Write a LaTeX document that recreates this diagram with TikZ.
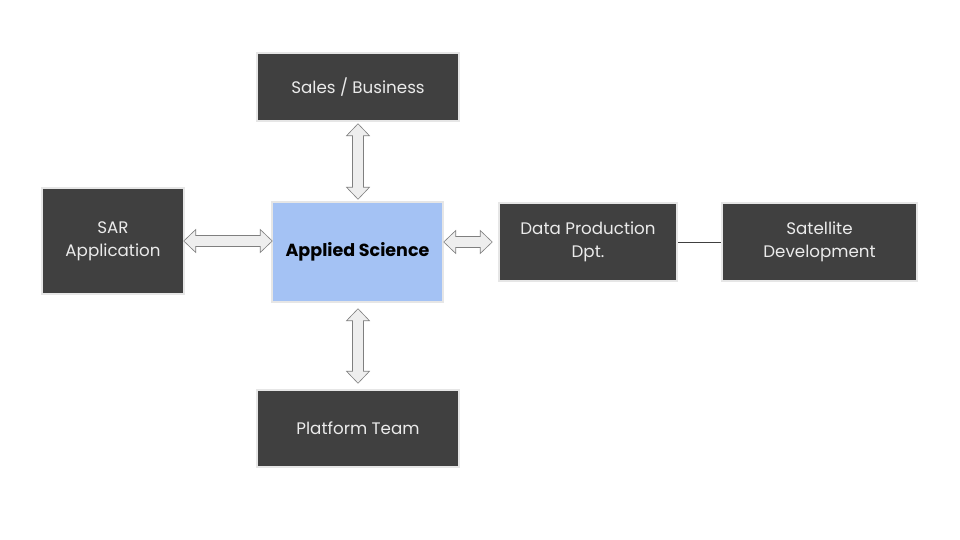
\documentclass[tikz,border=0pt]{standalone}
\usepackage{fontspec}
\setmainfont{Poppins}
\usetikzlibrary{calc}
\definecolor{boxdark}{HTML}{404040}
\definecolor{boxblue}{HTML}{A4C2F4}
\definecolor{rim}{HTML}{E6E6E6}
\definecolor{arrfill}{HTML}{EEEEEE}
\definecolor{arrline}{HTML}{7F7F7F}
\tikzset{
  darkbox/.style={draw=rim, line width=1.5pt, fill=boxdark, text=white!92!black, inner sep=0pt, align=center,
    font=\fontsize{16.7}{23}\selectfont},
  bluebox/.style={draw=rim, line width=1.5pt, fill=boxblue, text=black, inner sep=0pt, align=center,
    font=\fontsize{17.5}{23}\selectfont\bfseries},
  blockarrow/.style={draw=arrline, line width=0.6pt, fill=arrfill, line join=miter},
  plainline/.style={draw=boxdark, line width=0.8pt}
}
\newcommand\harrow[2]{\draw[blockarrow] let \p1=#1, \p2=#2 in
  (\x1,\y1) -- (\x1+12pt,\y1+11.5pt) -- (\x1+12pt,\y1+5.5pt) -- (\x2-12pt,\y1+5.5pt) -- (\x2-12pt,\y1+11.5pt)
  -- (\x2,\y1) -- (\x2-12pt,\y1-11.5pt) -- (\x2-12pt,\y1-5.5pt) -- (\x1+12pt,\y1-5.5pt) -- (\x1+12pt,\y1-11.5pt) -- cycle;}
\newcommand\varrow[2]{\draw[blockarrow] let \p1=#1, \p2=#2 in
  (\x1,\y1) -- (\x1+11.5pt,\y1-12pt) -- (\x1+5.5pt,\y1-12pt) -- (\x1+5.5pt,\y2+12pt) -- (\x1+11.5pt,\y2+12pt)
  -- (\x1,\y2) -- (\x1-11.5pt,\y2+12pt) -- (\x1-5.5pt,\y2+12pt) -- (\x1-5.5pt,\y1-12pt) -- (\x1-11.5pt,\y1-12pt) -- cycle;}
\begin{document}
\begin{tikzpicture}[x=1pt,y=-1pt]
\useasboundingbox[fill=white] (0,0) rectangle (960,540);
\node[darkbox, minimum width=202pt, minimum height=68pt] (sales) at (358,87) {Sales / Business};
\node[darkbox, minimum width=142pt, minimum height=106pt] (sar) at (113,241) {SAR\\Application};
\node[bluebox, minimum width=171pt, minimum height=100pt] (applied) at (357.5,252) {Applied Science};
\node[darkbox, minimum width=178pt, minimum height=78pt] (data) at (588,242) {Data Production\\Dpt.};
\node[darkbox, minimum width=195pt, minimum height=78pt] (sat) at (819.5,242) {Satellite\\Development};
\node[darkbox, minimum width=202pt, minimum height=77pt] (plat) at (358,428.5) {Platform Team};
% connectors
\coordinate (t1) at ([yshift=-2pt]sales.south);
\coordinate (t2) at ($(sales.south |- applied.north)+(0,-2)$);
\varrow{(t1)}{(t2)}
\coordinate (b1) at ($(plat.north |- applied.south)+(0,6)$);
\coordinate (b2) at ([yshift=6pt]plat.north);
\varrow{(b1)}{(b2)}
\coordinate (l1) at ([xshift=-1pt]sar.east);
\coordinate (l2) at ($(applied.west |- sar.east)+(1,0)$);
\harrow{(l1)}{(l2)}
\coordinate (r1) at ($(applied.east |- data.west)$);
\coordinate (r2) at ([xshift=-6pt]data.west);
\harrow{(r1)}{(r2)}
\draw[plainline] (data.east) -- (sat.west);
\end{tikzpicture}
\end{document}
